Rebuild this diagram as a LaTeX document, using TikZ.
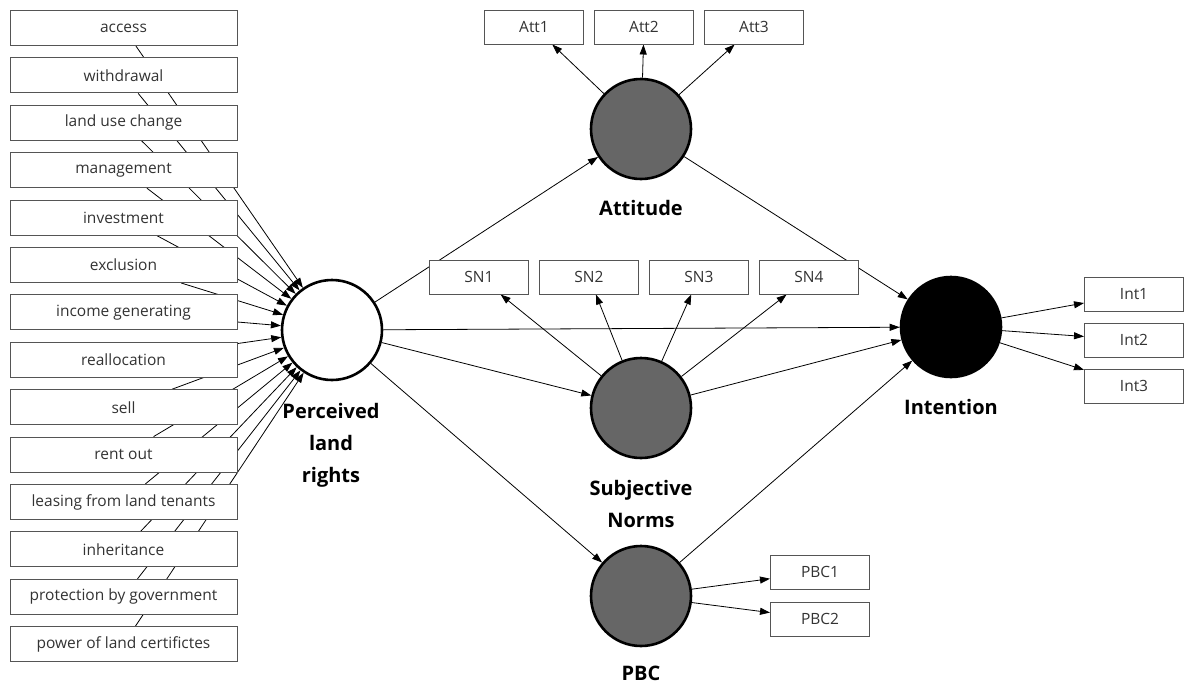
\documentclass[tikz,border=0pt]{standalone}
\usepackage{fontspec}
\setmainfont{Open Sans}
\usetikzlibrary{arrows.meta,backgrounds}
\definecolor{latent}{RGB}{102,102,102}
\definecolor{boxline}{RGB}{85,85,85}

\begin{document}
\begin{tikzpicture}[x=1pt,y=-1pt,
    ind/.style={draw=boxline,fill=white,line width=1pt,minimum width=227pt,minimum height=35pt,
                inner sep=0pt,font=\fontsize{15.5}{17}\selectfont,text=black!80},
    obs/.style={ind,minimum width=99pt,minimum height=34pt},
    lat/.style={circle,draw,line width=2.6pt,minimum size=100pt,inner sep=0pt,fill=latent},
    lab/.style={font=\fontsize{20}{32}\selectfont\bfseries,align=center},
    path/.style={-{Triangle[length=10pt,width=7pt]},line width=0.8pt}]
    \useasboundingbox (0,0) rectangle (1184,686);

    %land rights items
    \foreach \t [count=\i] in {access,withdrawal,land use change,management,investment,exclusion,
        income generating,reallocation,sell,rent out,leasing from land tenants,inheritance,
        protection by government,power of land certifictes}
        \node[ind] (lr\i) at (123.5,{28+47.4*(\i-1)}) {\t};

    %latent variables
    \node[lat,fill=white] (plr) at (332,330) {};
    \node[lat] (att) at (641,129) {};
    \node[lat] (sn) at (641,408) {};
    \node[lat] (pbc) at (641,596) {};
    \node[lat,fill=black] (int) at (951,327) {};

    \node[lab] (plrlab) at (331,445) {Perceived\\land\\rights};
    \node[lab] (attlab) at (641,208) {Attitude};
    \node[lab] (snlab) at (641,504) {Subjective\\Norms};
    \node[lab] (pbclab) at (641,673) {PBC};
    \node[lab] (intlab) at (951,407) {Intention};

    %indicators
    \foreach \n/\x in {1/534,2/644,3/754}
        \node[obs] (att\n) at (\x,27) {Att\n};
    \foreach \n/\x in {1/479,2/589,3/699,4/809}
        \node[obs] (sn\n) at (\x,277) {SN\n};
    \foreach \n/\y in {1/572,2/619}
        \node[obs] (pbc\n) at (820,\y) {PBC\n};
    \foreach \n/\y in {1/294,2/340,3/386}
        \node[obs] (int\n) at (1134,\y) {Int\n};

    \begin{scope}[on background layer]
    \foreach \i in {1,...,14}
        \draw[path] (lr\i) -- (plr);
    \draw[path] (plr) -- (att);
    \draw[path] (plr) -- (sn);
    \draw[path] (plr) -- (pbc);
    \draw[path] (plr) -- (int);
    \draw[path] (att) -- (int);
    \draw[path] (sn) -- (int);
    \draw[path] (pbc) -- (int);
    \foreach \n in {1,2,3}
        \draw[path] (att) -- (att\n);
    \foreach \n in {1,...,4}
        \draw[path] (sn) -- (sn\n);
    \foreach \n in {1,2}
        \draw[path] (pbc) -- (pbc\n);
    \foreach \n in {1,2,3}
        \draw[path] (int) -- (int\n);
    \end{scope}
\end{tikzpicture}
\end{document}
